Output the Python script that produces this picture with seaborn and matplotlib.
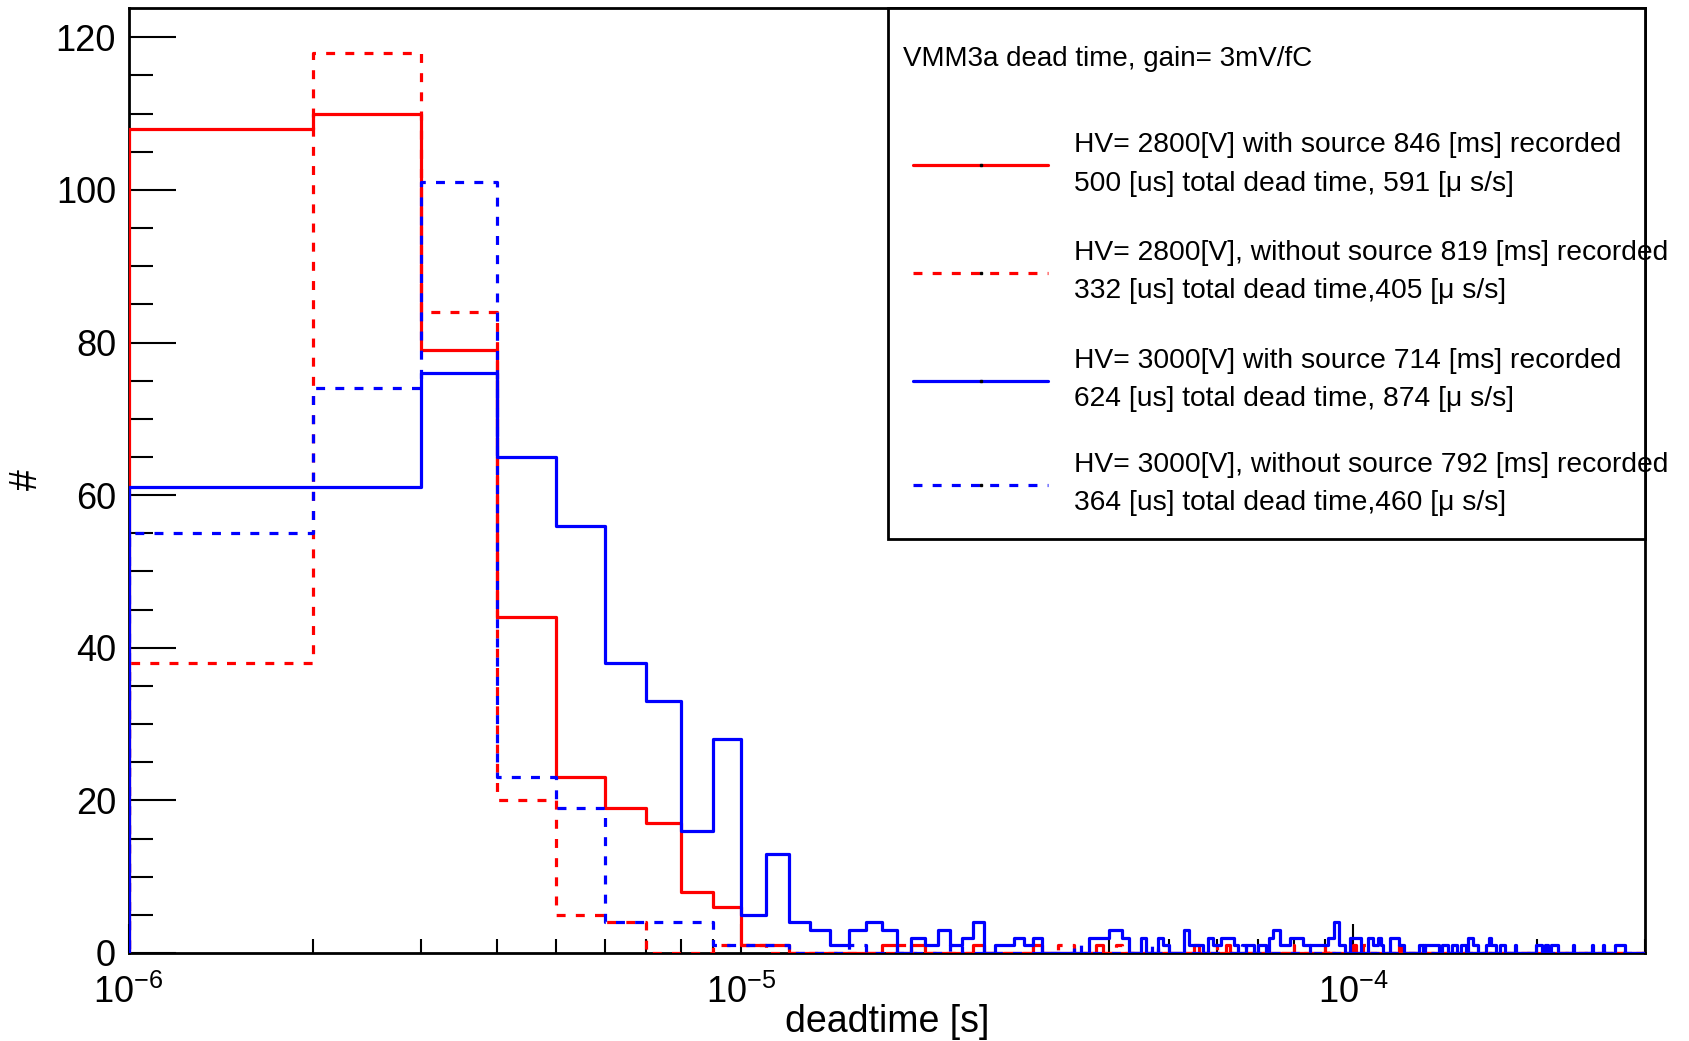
import numpy as np
import pandas as pd
import matplotlib
matplotlib.use("Agg")
import matplotlib.pyplot as plt
import seaborn as sns
from matplotlib.ticker import LogLocator, NullFormatter, MultipleLocator, LogFormatterSciNotation
from matplotlib.lines import Line2D
from matplotlib.patches import Rectangle

# ---------------- data ----------------
# histogram bins are [k, k+1) microseconds, k = 1 .. 299
n_bins = 299

red_solid_head = [108, 110, 79, 44, 23, 19, 17, 8, 6, 1, 1]
red_solid_tail_bins = [17, 19, 24, 30, 38, 55, 62, 100, 119]
red_solid_tail_counts = [1, 1, 1, 1, 1, 1, 1, 1, 1]

red_dash_head = [38, 118, 84, 20, 5, 4, 0, 0, 1, 1]
red_dash_tail_bins = [18, 33, 34, 41, 59, 79, 90, 104]
red_dash_tail_counts = [1, 1, 1, 1, 1, 1, 1, 1]

blue_solid_head = [61, 61, 76, 65, 56, 38, 33, 16, 28, 5, 13, 4, 3, 1, 3, 4, 3, 0,
                   2, 1, 3, 1, 2, 4, 0, 1, 1, 2, 1, 2]
blue_solid_tail_bins = [37, 38, 39, 40, 41, 42, 45, 48, 49, 53, 54, 55, 56,
                        58, 59, 60, 61, 62, 63, 64, 67, 68, 70, 71, 73, 74, 75, 76, 77,
                        78, 79, 80, 81, 82, 83, 84, 85, 86, 87, 88, 89, 90, 91, 92, 93,
                        94, 95, 96, 99, 100, 101, 102, 106, 107, 108, 109, 110, 111, 115,
                        116, 117, 118, 119, 120, 128, 129, 131, 132, 133, 134, 135, 136,
                        137, 140, 141, 142, 145, 146, 147, 150, 151, 152, 154, 155, 156,
                        157, 158, 159, 165, 166, 167, 168, 169, 170, 174, 175, 176, 184,
                        199, 200, 201, 202, 203, 206, 207, 211, 212, 213, 214, 215, 229,
                        246, 256, 268, 269, 270, 271, 272, 273, 274, 275, 276, 277]
blue_solid_tail_counts = [2, 2, 2, 3, 3, 2, 2, 2, 1, 3, 1, 1, 1,
                          2, 1, 1, 2, 2, 2, 1, 1, 1, 1, 1, 2, 3, 3, 1, 1,
                          1, 2, 2, 2, 2, 1, 1, 1, 1, 1, 1, 1, 1, 2, 2, 4,
                          4, 1, 1, 2, 2, 2, 2, 2, 2, 1, 1, 2, 1, 2,
                          2, 2, 2, 1, 1, 1, 1, 1, 1, 1, 1, 1, 1,
                          1, 1, 1, 1, 1, 1, 1, 1, 1, 1, 2, 2, 2,
                          1, 1, 1, 1, 1, 2, 1, 1, 1, 1, 1, 1, 1,
                          1, 1, 1, 1, 1, 1, 1, 1, 1, 1, 1, 1, 1,
                          1, 1, 1, 1, 1, 1, 1, 1, 1, 1, 1, 1]

blue_dash_head = [55, 74, 101, 23, 19, 4, 4, 4, 1, 1, 1]
blue_dash_tail_bins = [15, 22, 35, 47, 66, 85, 130]
blue_dash_tail_counts = [1, 1, 1, 1, 1, 1, 1]

legend_title = "VMM3a dead time, gain= 3mV/fC"
legend_lines = [
    ("HV= 2800[V] with source 846 [ms] recorded", "500 [us] total dead time, 591 [\u03bc s/s]"),
    ("HV= 2800[V], without source 819 [ms] recorded", "332 [us] total dead time,405 [\u03bc s/s]"),
    ("HV= 3000[V] with source 714 [ms] recorded", "624 [us] total dead time, 874 [\u03bc s/s]"),
    ("HV= 3000[V], without source 792 [ms] recorded", "364 [us] total dead time,460 [\u03bc s/s]"),
]


def build(head, tail_bins, tail_counts):
    counts = np.zeros(n_bins)
    counts[:len(head)] = head
    for b, c in zip(tail_bins, tail_counts):
        counts[b - 1] = c
    return counts


series = [
    ("red", "-", build(red_solid_head, red_solid_tail_bins, red_solid_tail_counts)),
    ("red", "--", build(red_dash_head, red_dash_tail_bins, red_dash_tail_counts)),
    ("blue", "-", build(blue_solid_head, blue_solid_tail_bins, blue_solid_tail_counts)),
    ("blue", "--", build(blue_dash_head, blue_dash_tail_bins, blue_dash_tail_counts)),
]

centers = (np.arange(1, n_bins + 1) + 0.5) * 1e-6

# ---------------- style ----------------
sns.set_theme(style="ticks")
plt.rcParams["font.family"] = ["Liberation Sans", "DejaVu Sans"]
plt.rcParams["mathtext.fontset"] = "custom"
plt.rcParams["mathtext.rm"] = "Liberation Sans"
plt.rcParams["mathtext.default"] = "regular"
plt.rcParams["axes.unicode_minus"] = True

W, H = 1689, 1041
fig = plt.figure(figsize=(W / 100, H / 100), dpi=100)
fig.patch.set_facecolor("white")
L, R, T, B = 128.5, 1645, 7.5, 953
ax = fig.add_axes([L / W, 1 - B / H, (R - L) / W, (B - T) / H])
ax.set_facecolor("white")

lw = 2.3
dash = (0, (2.8, 3.2))
for color, ls, counts in series:
    df = pd.DataFrame({"t": centers, "n": counts})
    # linear 1 us bins, with an empty bin on each side so the outline drops to zero
    sns.histplot(data=df, x="t", weights="n", binwidth=1e-6, binrange=(0.0, 301e-6),
                 element="step", fill=False, color=color, linewidth=lw,
                 linestyle=(dash if ls == "--" else "-"), ax=ax, zorder=3)

ax.set_xscale("log")
ax.set_xlim(1e-6, 3e-4)
ax.set_ylim(0, 123.9)
ax.xaxis.set_major_locator(LogLocator(base=10, numticks=10))
ax.xaxis.set_major_formatter(LogFormatterSciNotation())
ax.xaxis.set_minor_locator(LogLocator(base=10, subs=np.arange(2, 10), numticks=30))
ax.xaxis.set_minor_formatter(NullFormatter())
ax.yaxis.set_major_locator(MultipleLocator(20))
ax.yaxis.set_minor_locator(MultipleLocator(5))

ax.tick_params(which="both", direction="in", top=False, right=False, color="black",
               labelcolor="black", labelsize=26, width=1.5)
ax.tick_params(axis="y", which="major", length=34, pad=9)
ax.tick_params(axis="y", which="minor", length=17)
ax.tick_params(axis="x", which="major", length=21, pad=16)
ax.tick_params(axis="x", which="minor", length=10)
for s in ax.spines.values():
    s.set_color("black")
    s.set_linewidth(2.0)
    s.set_visible(True)

ax.set_xlabel("deadtime [s]", fontsize=27, color="black")
ax.xaxis.set_label_coords(0.5, -0.0735)
ax.xaxis.label.set_va("center")
ax.set_ylabel("#", fontsize=27, color="black", rotation=90)
ax.yaxis.set_label_coords(-0.0669, 0.501)
ax.yaxis.label.set_va("center")


def fx(px):
    return px / W


def fy(py):
    return 1 - py / H


# ---------------- legend (ROOT style box) ----------------
box_l, box_r, box_t, box_b = 888.5, 1645, 7.5, 538.6
fig.add_artist(Rectangle((fx(box_l), fy(box_b)), fx(box_r) - fx(box_l), fy(box_t) - fy(box_b),
                         transform=fig.transFigure, facecolor="white", edgecolor="black",
                         linewidth=2.0, zorder=5))
fig.text(fx(903), fy(59), legend_title, fontsize=20, ha="left", va="center", color="black", zorder=6)

line_y = [165.4, 273, 381, 485]
text_y = [(145, 184), (253, 291), (361, 399), (465, 503)]
styles = [("red", "-"), ("red", dash), ("blue", "-"), ("blue", dash)]
for (c, ls), ly, (t1, t2), (s1, s2) in zip(styles, line_y, text_y, legend_lines):
    fig.add_artist(Line2D([fx(913), fx(1048)], [fy(ly), fy(ly)], transform=fig.transFigure,
                          color=c, linestyle=ls, linewidth=lw, zorder=6))
    fig.add_artist(Line2D([fx(980.5)], [fy(ly)], transform=fig.transFigure, marker="s",
                          markersize=1.6, color="black", linestyle="none", zorder=7))
    fig.text(fx(1074), fy(t1), s1, fontsize=20.3, ha="left", va="center", color="black", zorder=6)
    fig.text(fx(1074), fy(t2), s2, fontsize=20.3, ha="left", va="center", color="black", zorder=6)

fig.savefig("out.png", dpi=100, facecolor="white")
